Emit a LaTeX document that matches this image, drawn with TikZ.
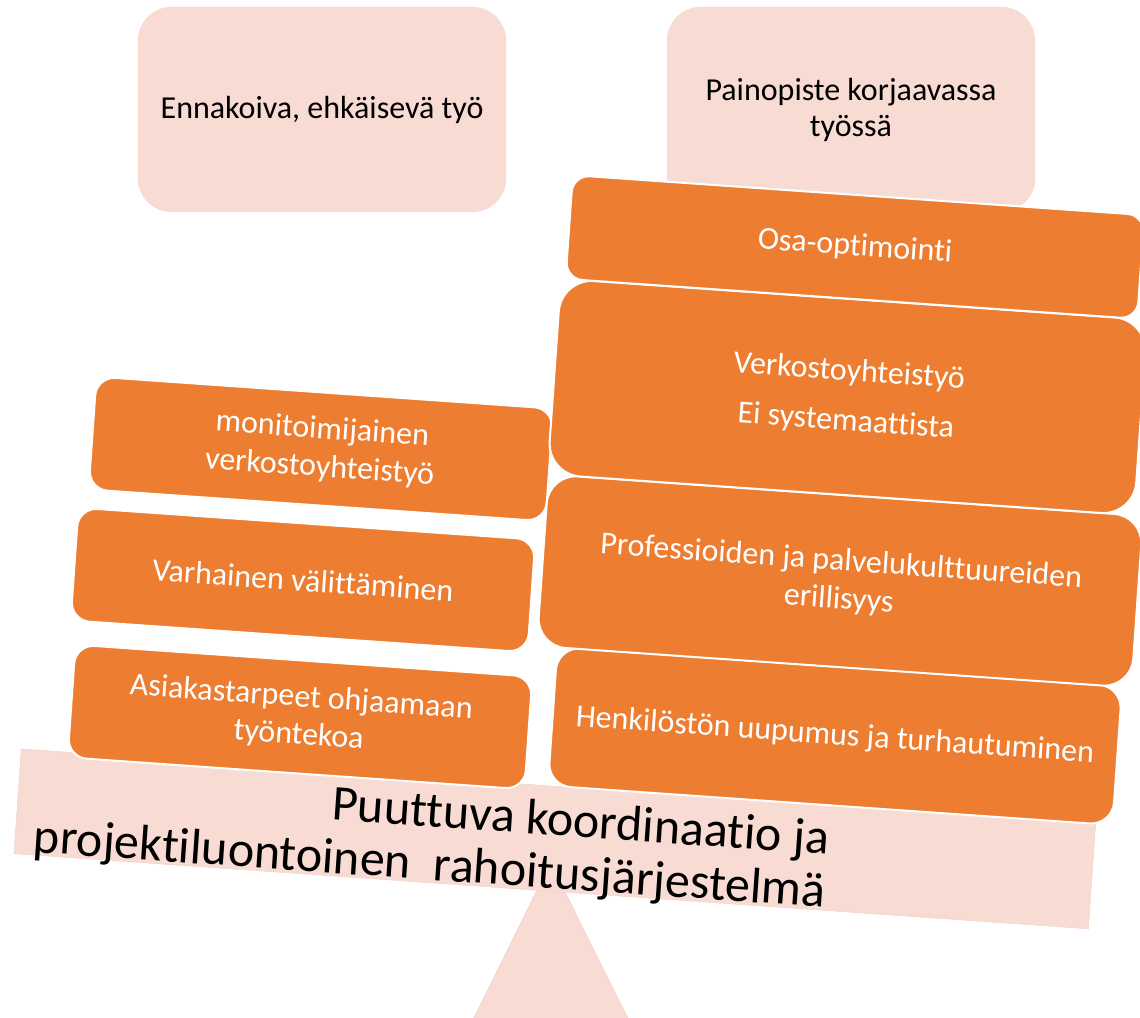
\documentclass[tikz,border=0pt]{standalone}
\usepackage{fontspec}
\setmainfont{Carlito}[Ligatures=NoCommon]

\definecolor{weightorange}{RGB}{237,125,49}
\definecolor{lightpink}{RGB}{248,219,211}
\definecolor{pinkedge}{RGB}{244,208,198}

\begin{document}
\begin{tikzpicture}[x=1pt, y=1pt,
    sidebox/.style={fill=lightpink, draw=lightpink, rounded corners=34pt,
        minimum width=368pt, minimum height=205pt, align=center,
        font=\fontsize{32}{36}\selectfont},
    weight/.style={fill=weightorange, draw=white, line width=2pt, text=white,
        align=center, rotate=-4, inner sep=0pt,
        font=\fontsize{32}{38}\selectfont}
]
    % Page frame
    \clip (0,0) rectangle (1140,1017);

    % Labels above the scale
    \node[sidebox] (ennakoiva) at (322,907.5) {Ennakoiva, ehkäisevä työ};
    \node[sidebox] (painopiste) at (851,907.5) {Painopiste korjaavassa\\työssä};

    % Fulcrum and beam
    \fill[lightpink, draw=pinkedge] (550.5,154.6) -- (628.3,-2) -- (473.3,-2) -- cycle;
    \node[fill=lightpink, draw=pinkedge, rotate=-4, minimum width=1077pt,
        minimum height=105pt] (beam) at (554.8,178.1) {};
    \node[rotate=-4, anchor=east, align=right, inner sep=0pt,
        font=\fontsize{50}{53}\selectfont] (beamtext) at (827.5,149)
        {Puuttuva koordinaatio ja\\projektiluontoinen~ rahoitusjärjestelmä};

    % Left side weights
    \node[weight, minimum width=458pt, minimum height=113pt, rounded corners=19pt]
        (asiakas) at (300,300) {Asiakastarpeet ohjaamaan\\työntekoa};
    \node[weight, minimum width=458pt, minimum height=113pt, rounded corners=19pt]
        (varhainen) at (303,437) {Varhainen välittäminen};
    \node[weight, minimum width=458pt, minimum height=113pt, rounded corners=19pt]
        (moni) at (321,568) {monitoimijainen\\verkostoyhteistyö};

    % Right side weights
    \node[weight, minimum width=566pt, minimum height=139pt, rounded corners=23pt]
        (henkilosto) at (835,281) {Henkilöstön uupumus ja turhautuminen};
    \node[weight, minimum width=596pt, minimum height=172pt, rounded corners=29pt]
        (professiot) at (840,436) {Professioiden ja palvelukulttuureiden\\erillisyys};
    \node[weight, minimum width=588pt, minimum height=196pt, rounded corners=33pt]
        (verkosto) at (847.5,620) {Verkostoyhteistyö\\[12pt]Ei systemaattista};
    \node[weight, minimum width=573pt, minimum height=104pt, rounded corners=17pt]
        (osa) at (855,770) {Osa-optimointi};
\end{tikzpicture}
\end{document}
